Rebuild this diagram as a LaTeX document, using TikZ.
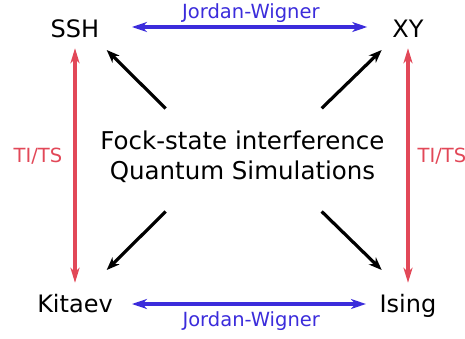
\documentclass[tikz,border=0pt]{standalone}
\usepackage{fontspec}
\setmainfont{DejaVu Sans}
\usetikzlibrary{arrows.meta,calc}
\definecolor{jwblue}{RGB}{59,44,219}
\definecolor{tired}{RGB}{226,72,88}

\begin{document}
\begin{tikzpicture}[x=1pt, y=-1pt,
    model/.style={font=\fontsize{24}{29}\selectfont, text height=18pt, text depth=0pt, inner sep=4pt},
    sim/.style={font=\fontsize{24.5}{30}\selectfont, align=center, inner sep=0pt},
    lab/.style={font=\fontsize{19.5}{23}\selectfont, inner sep=0pt},
    jw/.style={jwblue, line width=3.8pt, {Stealth[length=15pt,width=10pt,inset=4.5pt]}-{Stealth[length=15pt,width=10pt,inset=4.5pt]}},
    tits/.style={tired, line width=3.5pt, {Stealth[length=15pt,width=9pt,inset=4.5pt]}-{Stealth[length=15pt,width=9pt,inset=4.5pt]}},
    diag/.style={black, line width=3.2pt, -{Stealth[length=13pt,width=10pt,inset=4pt]}}]
    \clip (0,0) rectangle (465,339);

    \node[model] (ssh) at (75,29) {SSH};
    \node[model] (xy) at (408,29) {XY};
    \node[model] (kitaev) at (75,303) {Kitaev};
    \node[model] (ising) at (408,303) {Ising};
    \node[sim] (fock) at (242.5,157) {Fock-state interference\\Quantum Simulations};

    % Jordan-Wigner maps
    \draw[jw, shorten <=28.5pt, shorten >=21pt] ([yshift=2pt]ssh.east) -- ([yshift=2pt]xy.west)
        node[lab, midway, anchor=base, yshift=8.7pt, xshift=5pt] {Jordan-Wigner};
    \draw[jw, shorten <=15pt, shorten >=9.5pt] ([yshift=-1pt]kitaev.east) -- ([yshift=-1pt]ising.west)
        node[lab, midway, anchor=base, yshift=-22pt, xshift=5pt] {Jordan-Wigner};

    % TI/TS
    \draw[tits, shorten <=6pt, shorten >=7pt] (ssh) -- (kitaev);
    \draw[tits, shorten <=6pt, shorten >=7pt] (xy) -- (ising);
    \node[lab, tired, anchor=base] (tl) at (38,163) {TI/TS};
    \node[lab, tired, anchor=base] (tr) at (442,163) {TI/TS};

    % simulations
    \draw[diag] ($(fock)+(-76.8,-48.5)$) -- ($(ssh)+(31.7,21)$);
    \draw[diag] ($(fock)+(79.2,-48.7)$) -- ($(xy)+(-26.3,21)$);
    \draw[diag] ($(fock)+(-76.8,54.5)$) -- ($(kitaev)+(31.7,-33)$);
    \draw[diag] ($(fock)+(79.2,54.5)$) -- ($(ising)+(-26.3,-33)$);
\end{tikzpicture}
\end{document}
